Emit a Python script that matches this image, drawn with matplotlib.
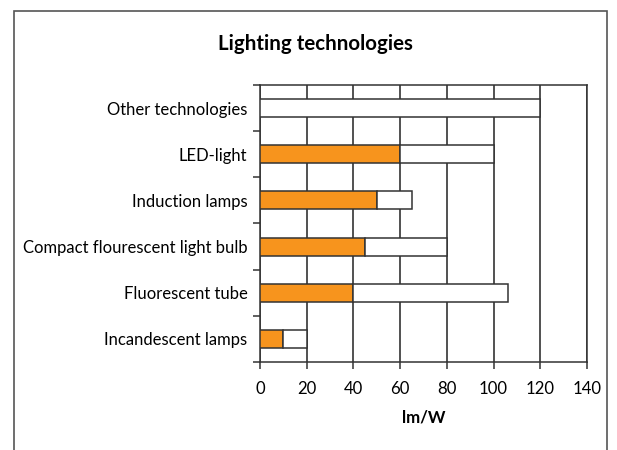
import matplotlib
matplotlib.use("Agg")
import matplotlib.pyplot as plt
from matplotlib.patches import Rectangle

categories = ["Incandescent lamps", "Fluorescent tube", "Compact flourescent light bulb",
              "Induction lamps", "LED-light", "Other technologies"]
min_eff = [10, 40, 45, 50, 60, 0]
max_eff = [20, 106, 80, 65, 100, 120]
xticks = [0, 20, 40, 60, 80, 100, 120, 140]

plt.rcParams['font.family'] = ['Lato', 'DejaVu Sans']
W, H = 617, 450
fig = plt.figure(figsize=(W/100, H/100), dpi=100)
fig.patch.set_facecolor('white')

frame = Rectangle((14/W, -0.05), (607-14)/W, 1.05 - 11/H, transform=fig.transFigure,
                  fill=False, edgecolor='#555555', linewidth=1.2)
fig.patches.append(frame)

ax = fig.add_axes([260/W, 1-362/H, (587-260)/W, (362-85)/H])
y = list(range(len(categories)))
rest = [mx - mn for mn, mx in zip(min_eff, max_eff)]
ax.barh(y, min_eff, height=0.39, color='#F7941D', edgecolor='#333333', linewidth=1.1, zorder=3)
ax.barh(y, rest, left=min_eff, height=0.39, color='white', edgecolor='#333333', linewidth=1.1, zorder=3)

ax.set_xlim(0, 140)
ax.set_ylim(-0.5, len(categories) - 0.5)
ax.set_xticks(xticks)
ax.set_xticklabels([str(t) for t in xticks], fontsize=12.1)
ax.set_yticks(y)
ax.set_yticklabels(categories, fontsize=11.95)
ax.set_yticks([i - 0.5 for i in range(len(categories) + 1)], minor=True)
ax.tick_params(axis='y', which='major', length=0, pad=9)
ax.tick_params(axis='y', which='minor', length=5, width=1.1, color='#333333', direction='out')
ax.tick_params(axis='x', length=5, width=1.1, color='#333333', direction='out', pad=9)
ax.xaxis.grid(True, color='#222222', linewidth=1.1, zorder=0)
ax.set_axisbelow(True)
for s in ax.spines.values():
    s.set_color('#333333')
    s.set_linewidth(1.1)
ax.set_xlabel('lm/W', fontsize=12.1, fontweight='bold', labelpad=9)
fig.text(315/W, 1-44/H, 'Lighting technologies', ha='center', va='center',
         fontsize=14.8, fontweight='bold')
fig.savefig('out.png', dpi=100)
